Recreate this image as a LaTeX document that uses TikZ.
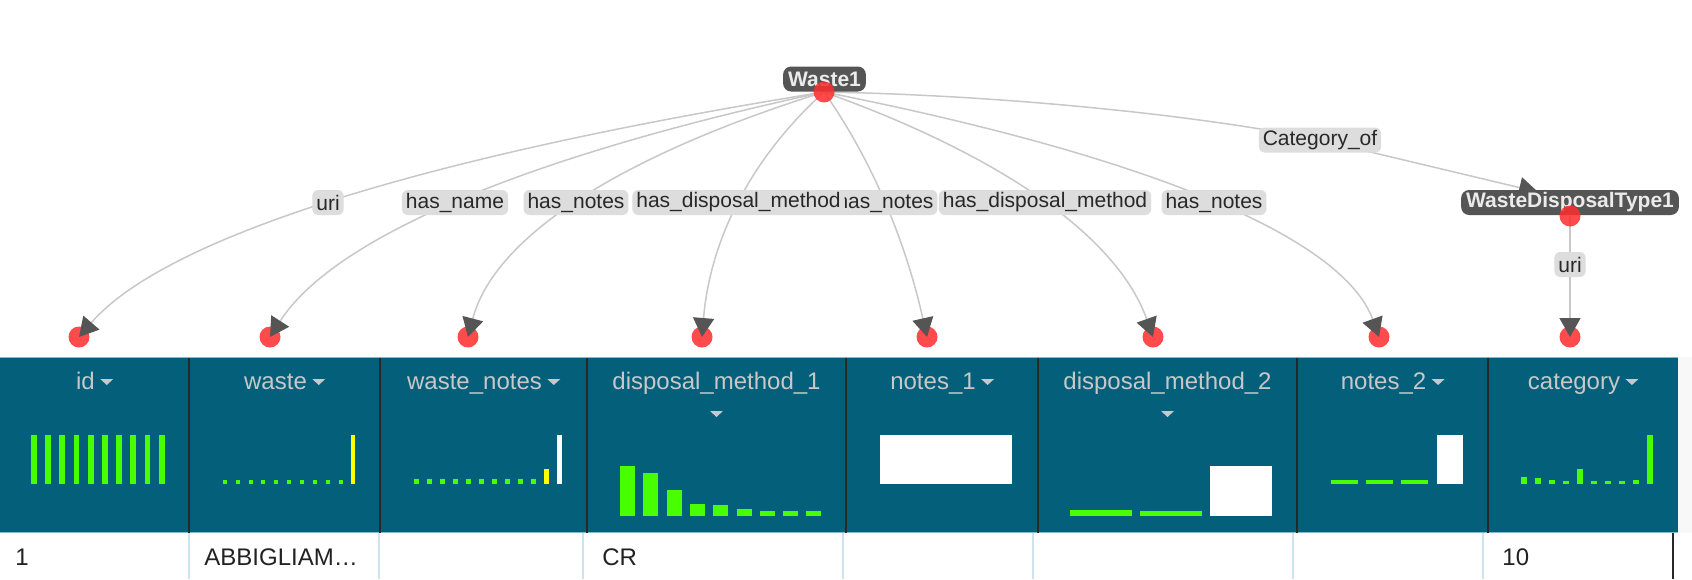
\documentclass[tikz,border=0pt]{standalone}
\usepackage{fontspec}
\setmainfont{Liberation Sans}
\usetikzlibrary{arrows.meta,calc}
\pgfdeclarelayer{bg}
\pgfdeclarelayer{edges}
\pgfsetlayers{bg,edges,main}
\definecolor{hdrblue}{RGB}{3,95,122}
\definecolor{hdrtext}{RGB}{200,200,200}
\definecolor{edgegray}{RGB}{200,200,200}
\definecolor{arrowgray}{RGB}{85,85,85}
\definecolor{lblgray}{RGB}{221,221,221}
\definecolor{lbltext}{RGB}{40,40,40}
\definecolor{nodegray}{RGB}{85,85,85}
\definecolor{nodetext}{RGB}{235,235,235}
\definecolor{dotred}{RGB}{255,44,44}
\definecolor{bargreen}{RGB}{72,255,0}
\definecolor{baryellow}{RGB}{255,255,0}
\definecolor{rowtext}{RGB}{34,34,34}
\definecolor{rowline}{RGB}{205,228,238}
\definecolor{hdrline}{RGB}{130,185,205}
\definecolor{sepdark}{RGB}{40,40,40}
\definecolor{stripgray}{RGB}{248,248,248}
\begin{document}
\begin{tikzpicture}[x=0.5pt,y=-0.5pt,
  edge/.style={draw=edgegray,line width=0.75pt,-{Triangle[length=9.5pt,width=10.5pt,color=arrowgray]}},
  elabel/.style={fill=lblgray,text=lbltext,rounded corners=3pt,font=\fontsize{10.5pt}{12pt}\selectfont,inner xsep=2pt,inner ysep=0pt,minimum height=12.5pt},
  nlabel/.style={fill=nodegray,text=nodetext,rounded corners=4pt,font=\bfseries\fontsize{10.5pt}{12pt}\selectfont,inner xsep=2.5pt,inner ysep=0pt,minimum height=12.5pt},
  dot/.style={circle,fill=dotred,fill opacity=0.85,minimum size=10.5pt,inner sep=0pt},
  hdr/.style={text=hdrtext,font=\fontsize{12pt}{14pt}\selectfont,inner sep=0pt,anchor=base},
  rowtxt/.style={text=rowtext,font=\fontsize{12pt}{14pt}\selectfont,inner sep=0pt,anchor=base west},
  sep/.style={line width=0.6pt}
]
\useasboundingbox (0,0) rectangle (1692,579);

% ---------------- table and bottom dots ----------------
\begin{pgfonlayer}{bg}
\fill[white] (0,0) rectangle (1692,579);
\fill[hdrblue] (0,357) rectangle (1678,533);
\fill[stripgray] (1678,357) rectangle (1692,533);
\draw[hdrline,line width=0.75pt] (0,357.5) -- (1678,357.5);
\draw[hdrline,line width=0.75pt] (0,532.5) -- (1678,532.5);
\foreach \x in {189,380,587,846,1038,1297,1488} \draw[sepdark,sep] (\x,357.5) -- (\x,532.5);
\foreach \x in {189,379,583,843,1033,1293,1483} \draw[rowline,sep] (\x,533) -- (\x,579);
\draw[sepdark,sep] (1673,533) -- (1673,579);

% header titles
\node[hdr] (hid) at (85.5,389) {id};
\node[hdr] (hwaste) at (275.5,389) {waste};
\node[hdr] (hwn) at (474.5,389) {waste\_notes};
\node[hdr] (hdm1) at (716.5,389) {disposal\_method\_1};
\node[hdr] (hn1) at (933,389) {notes\_1};
\node[hdr] (hdm2) at (1167.5,389) {disposal\_method\_2};
\node[hdr] (hn2) at (1383.5,389) {notes\_2};
\node[hdr] (hcat) at (1574,389) {category};
\foreach \h in {hid,hwaste,hwn,hn1,hn2,hcat}
  \fill[hdrtext] ($(\h.base east)+(5,-10)$) -- ++(13,0) -- ++(-6.5,6) -- cycle;
\foreach \h in {hdm1,hdm2}
  \fill[hdrtext] ($(\h.base)+(-6.5,22)$) -- ++(13,0) -- ++(-6.5,6) -- cycle;

% histograms
\foreach \i in {0,...,9} \fill[bargreen] ({31+14.2*\i},435) rectangle ++(5.7,49);
\foreach \i in {0,...,9} \fill[bargreen] ({222.7+12.9*\i},480) rectangle ++(4,4);
\fill[baryellow] (350.7,435) rectangle (355,484);
\foreach \i in {0,...,9} \fill[bargreen] ({414.3+13*\i},479) rectangle ++(4.3,5);
\fill[baryellow] (544.3,468.7) rectangle (548.7,484);
\fill[white] (557.3,435) rectangle (561.7,484);
\foreach \t [count=\i from 0] in {466,472.7,490.3,504,505.3,509,510.7,510.7,510.7}
  \fill[bargreen] ({620+23.3*\i},\t) rectangle ({635+23.3*\i},515.7);
\fill[white] (880.3,435) rectangle (1012,484);
\fill[bargreen] (1070,510.3) rectangle (1132,515.7);
\fill[bargreen] (1140.3,511.3) rectangle (1202,515.7);
\fill[white] (1210.3,466) rectangle (1272.3,515.7);
\fill[bargreen] (1331,480) rectangle (1358.3,484);
\fill[bargreen] (1366,480) rectangle (1393.3,484);
\fill[bargreen] (1401,480) rectangle (1428.3,484);
\fill[white] (1436.7,435) rectangle (1463.3,484);
\foreach \t [count=\i from 0] in {476.7,477.7,479.7,480.7,469.3,480.7,480.7,480.7,480,435}
  \fill[bargreen] ({1521+14*\i},\t) rectangle ({1527+14*\i},484);

% row
\node[rowtxt] (r1) at (15,565) {1};
\node[rowtxt] (r2) at (204,565) {ABBIGLIAM…};
\node[rowtxt] (r4) at (602,565) {CR};
\node[rowtxt] (r8) at (1502,565) {10};

% bottom dots
\node[dot] (d1) at (79,337) {};
\node[dot] (d2) at (270,337) {};
\node[dot] (d3) at (468,337) {};
\node[dot] (d4) at (702,337) {};
\node[dot] (d5) at (927,337) {};
\node[dot] (d6) at (1153,337) {};
\node[dot] (d7) at (1379,337) {};
\node[dot] (d8) at (1570,337) {};
\end{pgfonlayer}

% ---------------- nodes ----------------
\coordinate (catpos) at (1320,140);
\coordinate (cattip) at (1538,192);

\node[elabel] (l1) at (328,202.5) {uri};
\node[elabel] (l2) at (455,202.5) {has\_name};
\node[elabel] (l3) at (576,202.5) {has\_notes};
\node[elabel] (l5) at (885,202.5) {has\_notes};
\node[elabel] (l4) at (738.5,202.5) {has\_disposal\_method};
\node[elabel] (l6) at (1045,202.5) {has\_disposal\_method};
\node[elabel] (l7) at (1214,202.5) {has\_notes};
\node[elabel] (lc) at (catpos) {Category\_of};
\node[elabel] (l8) at (1570,264.5) {uri};

\node[nlabel] (waste1) at (824.5,79) {Waste1};
\node[nlabel] (wdt) at (1570,202.5) {WasteDisposalType1};
\node[dot] (w1dot) at (824,92) {};
\node[dot] (wdtdot) at (1570,216) {};

% ---------------- edges ----------------
\begin{pgfonlayer}{edges}
\draw[edge] (w1dot.center) .. controls (411,158.3) and (162.7,240) .. (d1.center);
\draw[edge] (w1dot.center) .. controls (516.7,158.3) and (332,240) .. (d2.center);
\draw[edge] (w1dot.center) .. controls (612,158.3) and (493.3,240) .. (d3.center);
\draw[edge] (w1dot.center) .. controls (750.7,158.3) and (710,240) .. (d4.center);
\draw[edge] (w1dot.center) .. controls (871,158.3) and (905.3,240) .. (d5.center);
\draw[edge] (w1dot.center) .. controls (1009,158.3) and (1118.7,240) .. (d6.center);
\draw[edge] (w1dot.center) .. controls (1159,158.3) and (1344,240) .. (d7.center);
\draw[edge] (w1dot.center) .. controls (1000,95) and (1200,115) .. (catpos) -- (cattip);
\draw[edge] (wdtdot.center) -- (d8.center);
\end{pgfonlayer}
\end{tikzpicture}
\end{document}
